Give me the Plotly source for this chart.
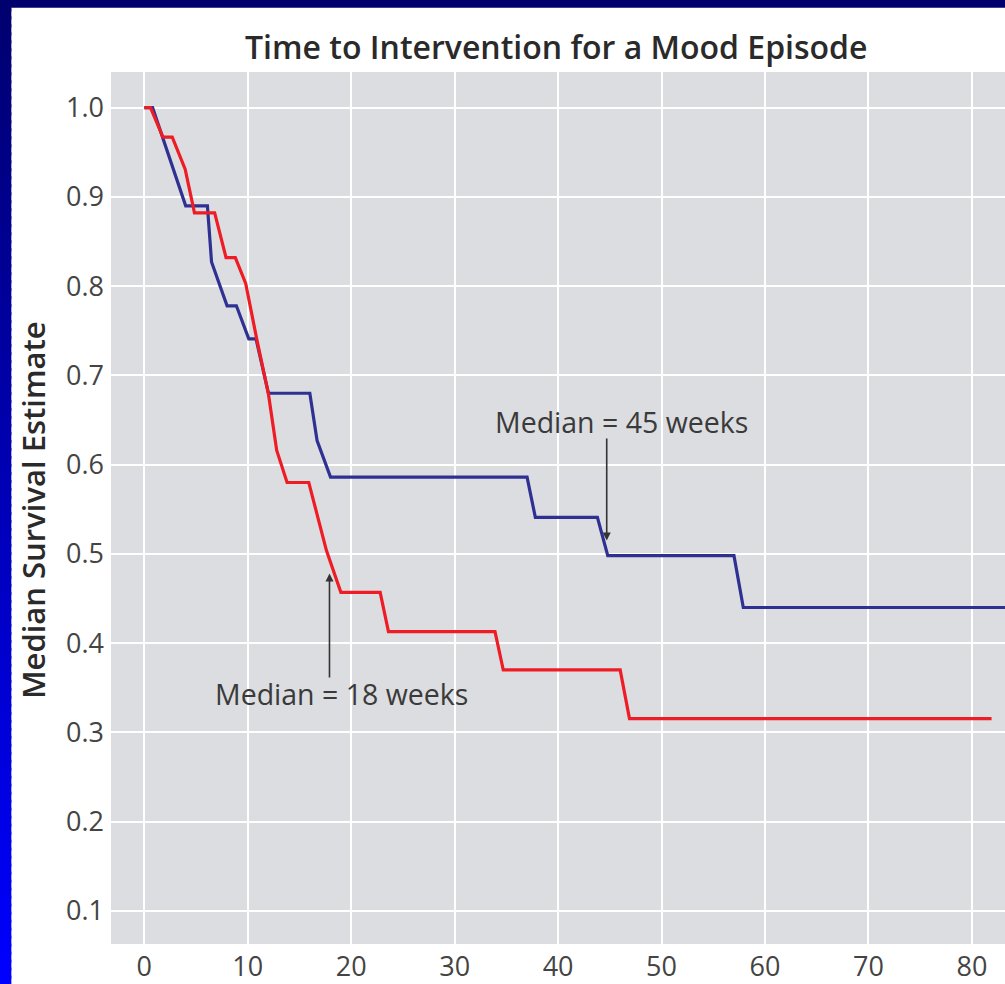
import plotly.graph_objects as go

# ---- data ----
blue_weeks = [0, 0.8, 4.0, 6.1, 6.5, 8.0, 8.9, 10.1, 10.8, 12.0, 16.0, 16.7, 18.0,
              37.0, 37.8, 43.8, 44.8, 57.0, 57.9, 84.0]
blue_surv = [1.0, 1.0, 0.890, 0.890, 0.827, 0.778, 0.778, 0.741, 0.741, 0.680, 0.680,
             0.627, 0.586, 0.586, 0.541, 0.541, 0.498, 0.498, 0.440, 0.440]

red_weeks = [0, 0.6, 1.8, 2.7, 3.95, 4.85, 6.8, 7.9, 8.8, 9.8, 10.9, 12.0, 12.8, 13.8,
             15.9, 17.6, 19.0, 22.8, 23.6, 33.9, 34.7, 46.0, 46.9, 81.9]
red_surv = [1.0, 1.0, 0.967, 0.967, 0.931, 0.882, 0.882, 0.832, 0.832, 0.803, 0.739,
            0.679, 0.616, 0.580, 0.580, 0.504, 0.457, 0.457, 0.413, 0.413, 0.370,
            0.370, 0.3155, 0.3155]

x_ticks = [0, 10, 20, 30, 40, 50, 60, 70, 80]
y_ticks = [0.1, 0.2, 0.3, 0.4, 0.5, 0.6, 0.7, 0.8, 0.9, 1.0]
y_tick_labels = ["0.1", "0.2", "0.3", "0.4", "0.5", "0.6", "0.7", "0.8", "0.9", "1.0"]

median_red = 18
median_blue = 45

W, H = 1005, 984
L, T, B = 110.7, 71.7, 944.3
PW, PH = W - L, B - T
FONT = "Open Sans"
TXT = "#3a3a3a"


def px_x(p):
    return (p - L) / PW


def px_y(p):
    return (B - p) / PH


fig = go.Figure()
fig.add_trace(go.Scatter(x=blue_weeks, y=blue_surv, mode="lines",
                         line=dict(color="#2e3192", width=3.2), showlegend=False))
fig.add_trace(go.Scatter(x=red_weeks, y=red_surv, mode="lines",
                         line=dict(color="#ee1c25", width=3.2), showlegend=False))

shapes = []
# left gradient strip: navy at top to bright blue at bottom (overlapping bands)
n = 123
band = H / n
for i in range(n):
    ya = band * i
    yb = min(H + 1, band * (i + 1) + 3)
    t = (i + 0.5) / n
    b = int(round(110 + (255 - 110) * t))
    shapes.append(dict(type="rect", xref="paper", yref="paper", layer="above",
                       x0=px_x(-1), x1=px_x(11),
                       y0=px_y(yb), y1=px_y(ya),
                       fillcolor=f"rgb(0,0,{b})", line=dict(width=0)))
# navy top bar of the frame
shapes.append(dict(type="rect", xref="paper", yref="paper", layer="above",
                   x0=px_x(-1), x1=px_x(W + 1), y0=px_y(7.3), y1=px_y(-1),
                   fillcolor="#00006e", line=dict(width=0)))

annotations = [
    dict(x=46.1, y=0.648, xref="x", yref="y", text=f"Median = {median_blue} weeks",
         showarrow=False, font=dict(family=FONT, size=28.5, color=TXT)),
    dict(x=median_blue - 0.3, y=0.515, ax=median_blue - 0.3, ay=0.631, xref="x", yref="y",
         axref="x", ayref="y", text="", showarrow=True, arrowhead=2, arrowsize=1,
         arrowwidth=1.6, arrowcolor="#333333"),
    dict(x=19.1, y=0.343, xref="x", yref="y", text=f"Median = {median_red} weeks",
         showarrow=False, font=dict(family=FONT, size=28.5, color=TXT)),
    dict(x=median_red - 0.1, y=0.478, ax=median_red - 0.1, ay=0.36, xref="x", yref="y",
         axref="x", ayref="y", text="", showarrow=True, arrowhead=2, arrowsize=1,
         arrowwidth=1.6, arrowcolor="#333333"),
    dict(x=px_x(32.7), y=px_y(510), xref="paper", yref="paper",
         text="Median Survival Estimate", textangle=-90, showarrow=False,
         xanchor="center", yanchor="middle",
         font=dict(family=FONT, size=31, color="#2a2a2a", weight=600)),
    dict(x=px_x(556), y=px_y(46), xref="paper", yref="paper",
         text="Time to Intervention for a Mood Episode", showarrow=False,
         xanchor="center", yanchor="middle",
         font=dict(family=FONT, size=32, color="#2a2a2a", weight=600)),
]

fig.update_layout(
    width=W, height=H, autosize=False,
    margin=dict(l=L, r=0, t=T, b=H - B, pad=0),
    paper_bgcolor="white",
    plot_bgcolor="#dcdde0",
    shapes=shapes,
    annotations=annotations,
    font=dict(family=FONT),
    xaxis=dict(range=[-3.22, 83.2], tickvals=x_ticks, showgrid=True, gridcolor="white",
               gridwidth=2, zeroline=False, showline=False, ticks="",
               tickfont=dict(family=FONT, size=27, color="#444444"),
               ticklabelstandoff=4),
    yaxis=dict(range=[0.063, 1.0399], tickvals=y_ticks, ticktext=y_tick_labels,
               showgrid=True, gridcolor="white", gridwidth=2, zeroline=False,
               showline=False, ticks="",
               tickfont=dict(family=FONT, size=27, color="#444444"),
               ticklabelstandoff=6),
)

fig.write_html("out.html")
